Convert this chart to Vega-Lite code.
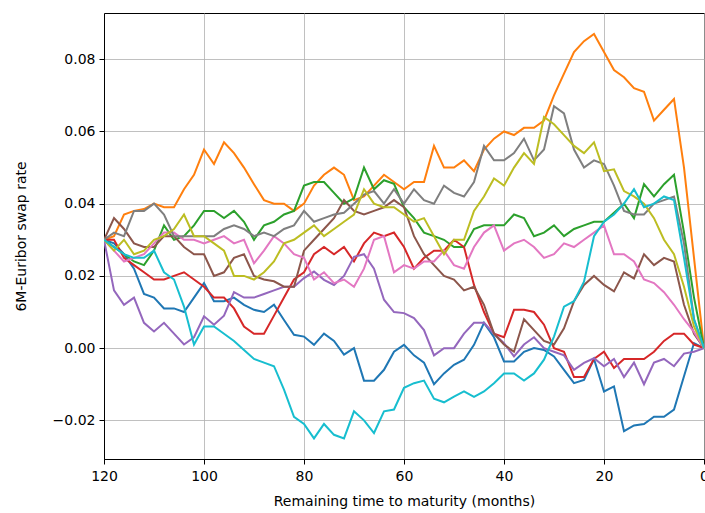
{
  "$schema": "https://vega.github.io/schema/vega-lite/v6.json",
  "width": 600,
  "height": 446,
  "autosize": {"type": "none"},
  "padding": {"left": 104, "top": 13, "right": 1, "bottom": 54},
  "background": "white",
  "data": {"values": [
    {"t":120,"C0":0.030,"C1":0.030,"C2":0.030,"C3":0.030,"C4":0.030,"C5":0.030,"C6":0.030,"C7":0.030,"C8":0.030,"C9":0.030},
    {"t":118,"C0":0.029,"C1":0.031,"C2":0.028,"C3":0.030,"C4":0.016,"C5":0.036,"C6":0.027,"C7":0.032,"C8":0.027,"C9":0.028},
    {"t":116,"C0":0.026,"C1":0.037,"C2":0.026,"C3":0.025,"C4":0.012,"C5":0.033,"C6":0.024,"C7":0.031,"C8":0.030,"C9":0.026},
    {"t":114,"C0":0.022,"C1":0.038,"C2":0.024,"C3":0.023,"C4":0.014,"C5":0.029,"C6":0.025,"C7":0.038,"C8":0.026,"C9":0.025},
    {"t":112,"C0":0.015,"C1":0.0385,"C2":0.023,"C3":0.021,"C4":0.007,"C5":0.028,"C6":0.026,"C7":0.038,"C8":0.027,"C9":0.025},
    {"t":110,"C0":0.014,"C1":0.040,"C2":0.027,"C3":0.019,"C4":0.0046,"C5":0.028,"C6":0.029,"C7":0.040,"C8":0.030,"C9":0.027},
    {"t":108,"C0":0.011,"C1":0.039,"C2":0.034,"C3":0.019,"C4":0.007,"C5":0.031,"C6":0.032,"C7":0.037,"C8":0.031,"C9":0.021},
    {"t":106,"C0":0.011,"C1":0.039,"C2":0.030,"C3":0.020,"C4":0.004,"C5":0.031,"C6":0.032,"C7":0.031,"C8":0.033,"C9":0.019},
    {"t":104,"C0":0.010,"C1":0.044,"C2":0.031,"C3":0.021,"C4":0.001,"C5":0.028,"C6":0.030,"C7":0.031,"C8":0.037,"C9":0.0115},
    {"t":102,"C0":0.014,"C1":0.048,"C2":0.034,"C3":0.019,"C4":0.003,"C5":0.026,"C6":0.030,"C7":0.031,"C8":0.031,"C9":0.001},
    {"t":100,"C0":0.018,"C1":0.055,"C2":0.038,"C3":0.017,"C4":0.0088,"C5":0.026,"C6":0.029,"C7":0.031,"C8":0.031,"C9":0.006},
    {"t":98,"C0":0.013,"C1":0.051,"C2":0.038,"C3":0.014,"C4":0.0065,"C5":0.020,"C6":0.030,"C7":0.031,"C8":0.029,"C9":0.006},
    {"t":96,"C0":0.013,"C1":0.057,"C2":0.036,"C3":0.014,"C4":0.009,"C5":0.021,"C6":0.031,"C7":0.033,"C8":0.027,"C9":0.004},
    {"t":94,"C0":0.014,"C1":0.054,"C2":0.038,"C3":0.011,"C4":0.0155,"C5":0.025,"C6":0.029,"C7":0.034,"C8":0.020,"C9":0.002},
    {"t":92,"C0":0.012,"C1":0.050,"C2":0.035,"C3":0.006,"C4":0.014,"C5":0.026,"C6":0.030,"C7":0.033,"C8":0.020,"C9":-0.0005},
    {"t":90,"C0":0.0106,"C1":0.0454,"C2":0.030,"C3":0.004,"C4":0.014,"C5":0.020,"C6":0.0235,"C7":0.031,"C8":0.019,"C9":-0.003},
    {"t":88,"C0":0.010,"C1":0.041,"C2":0.034,"C3":0.004,"C4":0.015,"C5":0.019,"C6":0.027,"C7":0.032,"C8":0.021,"C9":-0.004},
    {"t":86,"C0":0.012,"C1":0.040,"C2":0.035,"C3":0.009,"C4":0.016,"C5":0.0185,"C6":0.031,"C7":0.031,"C8":0.024,"C9":-0.005},
    {"t":84,"C0":0.0078,"C1":0.040,"C2":0.037,"C3":0.014,"C4":0.017,"C5":0.017,"C6":0.029,"C7":0.033,"C8":0.029,"C9":-0.0115},
    {"t":82,"C0":0.0037,"C1":0.038,"C2":0.038,"C3":0.019,"C4":0.017,"C5":0.017,"C6":0.026,"C7":0.034,"C8":0.030,"C9":-0.019},
    {"t":80,"C0":0.0032,"C1":0.040,"C2":0.045,"C3":0.021,"C4":0.0194,"C5":0.027,"C6":0.025,"C7":0.038,"C8":0.032,"C9":-0.021},
    {"t":78,"C0":0.0009,"C1":0.045,"C2":0.046,"C3":0.026,"C4":0.0212,"C5":0.030,"C6":0.019,"C7":0.035,"C8":0.034,"C9":-0.025},
    {"t":76,"C0":0.004,"C1":0.048,"C2":0.046,"C3":0.028,"C4":0.0189,"C5":0.033,"C6":0.021,"C7":0.036,"C8":0.031,"C9":-0.021},
    {"t":74,"C0":0.002,"C1":0.050,"C2":0.043,"C3":0.026,"C4":0.0175,"C5":0.036,"C6":0.018,"C7":0.037,"C8":0.033,"C9":-0.024},
    {"t":72,"C0":-0.0018,"C1":0.048,"C2":0.040,"C3":0.028,"C4":0.020,"C5":0.041,"C6":0.019,"C7":0.0375,"C8":0.035,"C9":-0.025},
    {"t":70,"C0":0.000,"C1":0.041,"C2":0.0415,"C3":0.024,"C4":0.0253,"C5":0.038,"C6":0.017,"C7":0.040,"C8":0.037,"C9":-0.0175},
    {"t":68,"C0":-0.009,"C1":0.042,"C2":0.050,"C3":0.029,"C4":0.026,"C5":0.037,"C6":0.022,"C7":0.0425,"C8":0.044,"C9":-0.020},
    {"t":66,"C0":-0.009,"C1":0.045,"C2":0.044,"C3":0.032,"C4":0.022,"C5":0.038,"C6":0.030,"C7":0.0435,"C8":0.040,"C9":-0.0235},
    {"t":64,"C0":-0.006,"C1":0.048,"C2":0.0465,"C3":0.031,"C4":0.0134,"C5":0.039,"C6":0.031,"C7":0.040,"C8":0.039,"C9":-0.0175},
    {"t":62,"C0":-0.001,"C1":0.046,"C2":0.0455,"C3":0.032,"C4":0.010,"C5":0.041,"C6":0.021,"C7":0.044,"C8":0.039,"C9":-0.017},
    {"t":60,"C0":0.0009,"C1":0.044,"C2":0.039,"C3":0.028,"C4":0.0097,"C5":0.039,"C6":0.023,"C7":0.040,"C8":0.037,"C9":-0.011},
    {"t":58,"C0":-0.002,"C1":0.046,"C2":0.036,"C3":0.022,"C4":0.0083,"C5":0.031,"C6":0.022,"C7":0.044,"C8":0.035,"C9":-0.0097},
    {"t":56,"C0":-0.004,"C1":0.046,"C2":0.032,"C3":0.025,"C4":0.005,"C5":0.026,"C6":0.024,"C7":0.041,"C8":0.036,"C9":-0.009},
    {"t":54,"C0":-0.010,"C1":0.056,"C2":0.031,"C3":0.027,"C4":-0.002,"C5":0.023,"C6":0.024,"C7":0.040,"C8":0.031,"C9":-0.014},
    {"t":52,"C0":-0.007,"C1":0.050,"C2":0.030,"C3":0.027,"C4":0.000,"C5":0.020,"C6":0.027,"C7":0.045,"C8":0.026,"C9":-0.015},
    {"t":50,"C0":-0.0046,"C1":0.050,"C2":0.028,"C3":0.030,"C4":0.000,"C5":0.019,"C6":0.023,"C7":0.043,"C8":0.030,"C9":-0.0134},
    {"t":48,"C0":-0.0032,"C1":0.052,"C2":0.028,"C3":0.028,"C4":0.004,"C5":0.016,"C6":0.022,"C7":0.042,"C8":0.030,"C9":-0.012},
    {"t":46,"C0":0.0009,"C1":0.049,"C2":0.033,"C3":0.0175,"C4":0.007,"C5":0.017,"C6":0.028,"C7":0.046,"C8":0.038,"C9":-0.0135},
    {"t":44,"C0":0.007,"C1":0.055,"C2":0.034,"C3":0.010,"C4":0.007,"C5":0.012,"C6":0.032,"C7":0.056,"C8":0.042,"C9":-0.012},
    {"t":42,"C0":0.003,"C1":0.058,"C2":0.034,"C3":0.004,"C4":0.004,"C5":0.004,"C6":0.034,"C7":0.052,"C8":0.047,"C9":-0.0097},
    {"t":40,"C0":-0.0037,"C1":0.060,"C2":0.034,"C3":0.003,"C4":0.0014,"C5":0.001,"C6":0.027,"C7":0.052,"C8":0.045,"C9":-0.007},
    {"t":38,"C0":-0.0037,"C1":0.059,"C2":0.037,"C3":0.0106,"C4":-0.0023,"C5":-0.001,"C6":0.029,"C7":0.054,"C8":0.050,"C9":-0.007},
    {"t":36,"C0":-0.001,"C1":0.061,"C2":0.036,"C3":0.0106,"C4":0.001,"C5":0.008,"C6":0.030,"C7":0.058,"C8":0.054,"C9":-0.009},
    {"t":34,"C0":0.000,"C1":0.061,"C2":0.031,"C3":0.010,"C4":0.003,"C5":0.005,"C6":0.028,"C7":0.052,"C8":0.051,"C9":-0.007},
    {"t":32,"C0":-0.0005,"C1":0.063,"C2":0.032,"C3":0.0065,"C4":0.000,"C5":0.002,"C6":0.025,"C7":0.055,"C8":0.064,"C9":-0.0032},
    {"t":30,"C0":-0.0023,"C1":0.070,"C2":0.034,"C3":0.000,"C4":-0.001,"C5":0.001,"C6":0.026,"C7":0.067,"C8":0.062,"C9":0.0032},
    {"t":28,"C0":-0.006,"C1":0.076,"C2":0.031,"C3":-0.001,"C4":-0.002,"C5":0.0055,"C6":0.029,"C7":0.065,"C8":0.059,"C9":0.0115},
    {"t":26,"C0":-0.0097,"C1":0.082,"C2":0.033,"C3":-0.008,"C4":-0.006,"C5":0.013,"C6":0.028,"C7":0.055,"C8":0.056,"C9":0.013},
    {"t":24,"C0":-0.0088,"C1":0.085,"C2":0.034,"C3":-0.008,"C4":-0.0041,"C5":0.0175,"C6":0.030,"C7":0.050,"C8":0.054,"C9":0.0184},
    {"t":22,"C0":-0.003,"C1":0.087,"C2":0.035,"C3":-0.003,"C4":-0.0028,"C5":0.020,"C6":0.032,"C7":0.052,"C8":0.057,"C9":0.031},
    {"t":20,"C0":-0.012,"C1":0.082,"C2":0.035,"C3":-0.001,"C4":-0.005,"C5":0.0175,"C6":0.034,"C7":0.051,"C8":0.049,"C9":0.035},
    {"t":18,"C0":-0.0106,"C1":0.077,"C2":0.0375,"C3":-0.0055,"C4":-0.003,"C5":0.0157,"C6":0.026,"C7":0.045,"C8":0.0495,"C9":0.037},
    {"t":16,"C0":-0.023,"C1":0.075,"C2":0.040,"C3":-0.003,"C4":-0.008,"C5":0.021,"C6":0.026,"C7":0.038,"C8":0.0435,"C9":0.040},
    {"t":14,"C0":-0.0214,"C1":0.072,"C2":0.036,"C3":-0.003,"C4":-0.004,"C5":0.0193,"C6":0.024,"C7":0.037,"C8":0.042,"C9":0.044},
    {"t":12,"C0":-0.021,"C1":0.071,"C2":0.0454,"C3":-0.003,"C4":-0.010,"C5":0.026,"C6":0.019,"C7":0.037,"C8":0.040,"C9":0.039},
    {"t":10,"C0":-0.019,"C1":0.063,"C2":0.042,"C3":-0.001,"C4":-0.004,"C5":0.023,"C6":0.018,"C7":0.040,"C8":0.036,"C9":0.040},
    {"t":8,"C0":-0.019,"C1":0.066,"C2":0.0454,"C3":0.002,"C4":-0.003,"C5":0.025,"C6":0.0155,"C7":0.041,"C8":0.030,"C9":0.042},
    {"t":6,"C0":-0.017,"C1":0.069,"C2":0.048,"C3":0.004,"C4":-0.005,"C5":0.024,"C6":0.012,"C7":0.042,"C8":0.026,"C9":0.041},
    {"t":4,"C0":-0.0078,"C1":0.050,"C2":0.032,"C3":0.004,"C4":-0.0015,"C5":0.012,"C6":0.008,"C7":0.029,"C8":0.017,"C9":0.025},
    {"t":2,"C0":0.0014,"C1":0.025,"C2":0.014,"C3":0.001,"C4":-0.001,"C5":0.004,"C6":0.0045,"C7":0.008,"C8":0.006,"C9":0.008},
    {"t":0,"C0":0,"C1":0,"C2":0,"C3":0,"C4":0,"C5":0,"C6":0,"C7":0,"C8":0,"C9":0}
  ]},
  "transform": [
    {"fold": ["C0","C1","C2","C3","C4","C5","C6","C7","C8","C9"], "as": ["series","rate"]}
  ],
  "mark": {"type": "line", "strokeWidth": 2, "clip": true},
  "encoding": {
    "x": {"field": "t", "type": "quantitative",
      "scale": {"domain": [0, 120], "reverse": true, "nice": false, "zero": false},
      "axis": {"title": "Remaining time to maturity (months)", "values": [0,20,40,60,80,100,120], "format": "d", "labelFlush": false, "labelOverlap": false, "labelPadding": 5, "titlePadding": 11}},
    "y": {"field": "rate", "type": "quantitative",
      "scale": {"domain": [-0.0307, 0.0928], "nice": false, "zero": false},
      "axis": {"title": "6M-Euribor swap rate", "values": [-0.02,0,0.02,0.04,0.06,0.08], "format": ".2f", "titlePadding": 24}},
    "color": {"field": "series", "type": "nominal", "legend": null,
      "scale": {"domain": ["C0","C1","C2","C3","C4","C5","C6","C7","C8","C9"],
        "range": ["#1f77b4","#ff7f0e","#2ca02c","#d62728","#9467bd","#8c564b","#e377c2","#7f7f7f","#bcbd22","#17becf"]}}
  },
  "config": {
    "view": {"stroke": "black", "strokeWidth": 1},
    "axis": {"domainColor": "black", "tickColor": "black", "labelColor": "black", "titleColor": "black",
      "labelFont": "DejaVu Sans", "titleFont": "DejaVu Sans", "labelFontSize": 14, "titleFontSize": 14,
      "titleFontWeight": "normal", "tickSize": 5, "labelPadding": 4,
      "gridColor": "#b0b0b0", "gridWidth": 0.8, "gridOpacity": 1}
  }
}
